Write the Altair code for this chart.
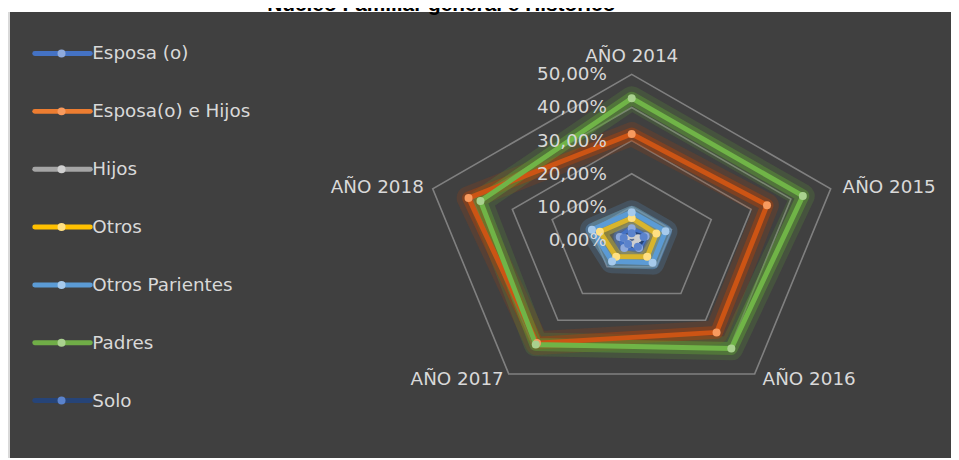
import altair as alt
import pandas as pd

# ---------------- data ----------------
years = ["AÑO 2014", "AÑO 2015", "AÑO 2016", "AÑO 2017", "AÑO 2018"]
series = ["Esposa (o)", "Esposa(o) e Hijos", "Hijos", "Otros",
          "Otros Parientes", "Padres", "Solo"]

esposa = [0.035, 0.035, 0.030, 0.030, 0.030]
esposa_hijos = [0.320, 0.340, 0.345, 0.385, 0.410]
hijos = [0.015, 0.016, 0.015, 0.014, 0.015]
otros = [0.066, 0.062, 0.063, 0.063, 0.080]
otros_parientes = [0.084, 0.085, 0.085, 0.080, 0.100]
padres = [0.428, 0.430, 0.405, 0.390, 0.380]
solo = [0.020, 0.030, 0.025, 0.015, 0.020]

ring_values = [0.1, 0.2, 0.3, 0.4, 0.5]
tick_values = [0.0, 0.1, 0.2, 0.3, 0.4, 0.5]
tick_labels = ["0,00%", "10,00%", "20,00%", "30,00%", "40,00%", "50,00%"]

title_text = "Nucleo Familiar general e Historico"

# ---------------- styles ----------------
legend_colors = ["#4472C4", "#ED7D31", "#A5A5A5", "#FFC000", "#5B9BD5", "#70AD47", "#264478"]
line_colors = ["#4472C4", "#CC5414", "#A5A5A5", "#D9B52C", "#5B9BD5", "#70B447", "#264478"]
glow_colors = ["#4472C4", "#B0420A", "#A5A5A5", "#C8A820", "#5B9BD5", "#5FA035", "#3A5A9A"]
point_colors = ["#8FAADC", "#F79A5E", "#CFCFCF", "#FFE083", "#A6CAEC", "#A9D18E", "#5B83CC"]

W, H = 951, 452
CX, CY = 629, 232          # radar centre in chart pixels
UX, UY = 422, 334          # pixels per unit (horizontal / vertical)
FONT = "DejaVu Sans"
FS = 18.5
TXT = "#D9D9D9"

xscale = alt.Scale(domain=[-CX / UX, (W - CX) / UX], nice=False, zero=False)
yscale = alt.Scale(domain=[-(H - CY) / UY, CY / UY], nice=False, zero=False)

# ---------------- tables ----------------
all_vals = [esposa, esposa_hijos, hijos, otros, otros_parientes, padres, solo]
rows = []
for s, vals in zip(series, all_vals):
    for i, (yr, v) in enumerate(zip(years, vals)):
        rows.append({"series": s, "year": yr, "idx": i, "value": v})
df = pd.DataFrame(rows)

ring_rows = []
for r in ring_values:
    for i in range(len(years)):
        ring_rows.append({"ring": r, "idx": i, "value": r})
rings = pd.DataFrame(ring_rows)

labels_df = pd.DataFrame({"year": years, "idx": list(range(len(years))),
                          "value": [0.5] * len(years)})
ticks_df = pd.DataFrame({"v": tick_values, "label": tick_labels})
legend_df = pd.DataFrame({"series": series})

calc_x = "datum.value * sin(datum.idx * 2 * PI / 5)"
calc_y = "datum.value * cos(datum.idx * 2 * PI / 5)"

X = alt.X("px:Q", scale=xscale, axis=None)
Y = alt.Y("py:Q", scale=yscale, axis=None)

one = alt.Data(values=[{"k": 1}])

# ---------------- layers ----------------
bg = alt.Chart(one).mark_rect(color="#404040").encode(
    x=alt.value(2), x2=alt.value(W), y=alt.value(2), y2=alt.value(H))
strip = alt.Chart(one).mark_rect(color="#D9D9D9").encode(
    x=alt.value(-1), x2=alt.value(2), y=alt.value(2), y2=alt.value(H))
title = alt.Chart(one).mark_text(
    text=title_text, font="Liberation Sans", fontWeight="bold", fontSize=21,
    color="#000000", align="center", baseline="middle").encode(
    x=alt.value(437), y=alt.value(-5))

grid = alt.Chart(rings).transform_calculate(px=calc_x, py=calc_y).mark_line(
    interpolate="linear-closed", color="#808080", strokeWidth=1.6).encode(
    x=X, y=Y, detail="ring:N", order="idx:Q")

base = alt.Chart(df).transform_calculate(px=calc_x, py=calc_y)

glow_scale = alt.Scale(domain=series, range=glow_colors)
glow1 = base.mark_line(interpolate="linear-closed", strokeWidth=24, opacity=0.2,
                       strokeJoin="round").encode(
    x=X, y=Y, stroke=alt.Stroke("series:N", scale=glow_scale, legend=None),
    detail="series:N", order="idx:Q")
glow2 = base.mark_line(interpolate="linear-closed", strokeWidth=13, opacity=0.45,
                       strokeJoin="round").encode(
    x=X, y=Y, stroke=alt.Stroke("series:N", scale=glow_scale, legend=None),
    detail="series:N", order="idx:Q")
lines = base.mark_line(interpolate="linear-closed", strokeWidth=5,
                       strokeJoin="round").encode(
    x=X, y=Y,
    stroke=alt.Stroke("series:N", scale=alt.Scale(domain=series, range=line_colors), legend=None),
    detail="series:N", order="idx:Q")
points = base.mark_circle(size=65, opacity=1).encode(
    x=X, y=Y,
    fill=alt.Fill("series:N", scale=alt.Scale(domain=series, range=point_colors), legend=None))

label_style = [
    dict(align="center", baseline="bottom", dx=0, dy=-8),
    dict(align="left", baseline="middle", dx=12, dy=-2),
    dict(align="left", baseline="middle", dx=8, dy=5),
    dict(align="right", baseline="middle", dx=-5, dy=5),
    dict(align="right", baseline="middle", dx=-9, dy=-2),
]
year_labels = []
for i, st in enumerate(label_style):
    year_labels.append(
        alt.Chart(labels_df).transform_filter(f"datum.idx == {i}")
        .transform_calculate(px=calc_x, py=calc_y)
        .mark_text(font=FONT, fontSize=FS, color=TXT, **st)
        .encode(x=X, y=Y, text="year:N"))

tick_text = alt.Chart(ticks_df).mark_text(
    font=FONT, fontSize=FS, color=TXT, align="right", baseline="middle").encode(
    x=alt.value(604), y=alt.Y("v:Q", scale=yscale, axis=None), text="label:N")

leg_y = alt.Y("series:N",
              scale=alt.Scale(type="point", domain=series, range=[44, 394], padding=0),
              axis=None, sort=series)
leg_line = alt.Chart(legend_df).mark_rule(strokeWidth=5, strokeCap="round").encode(
    x=alt.value(27), x2=alt.value(83), y=leg_y,
    stroke=alt.Stroke("series:N", scale=alt.Scale(domain=series, range=legend_colors), legend=None))
leg_dot = alt.Chart(legend_df).mark_circle(size=65, opacity=1).encode(
    x=alt.value(54), y=leg_y,
    fill=alt.Fill("series:N", scale=alt.Scale(domain=series, range=point_colors), legend=None))
leg_text = alt.Chart(legend_df).mark_text(
    font=FONT, fontSize=FS, color=TXT, align="left", baseline="middle").encode(
    x=alt.value(85), y=leg_y, text="series:N")

chart = alt.layer(
    bg, strip, title, grid, glow1, glow2, lines, points, *year_labels, tick_text,
    leg_line, leg_dot, leg_text
).resolve_scale(
    x="independent", y="independent", stroke="independent", fill="independent"
).properties(
    width=W, height=H, padding=0, background="white",
    autosize=alt.AutoSizeParams(type="none")
).configure_view(stroke=None)

chart.save("out.html", embed_options={"renderer": "svg", "actions": False})
